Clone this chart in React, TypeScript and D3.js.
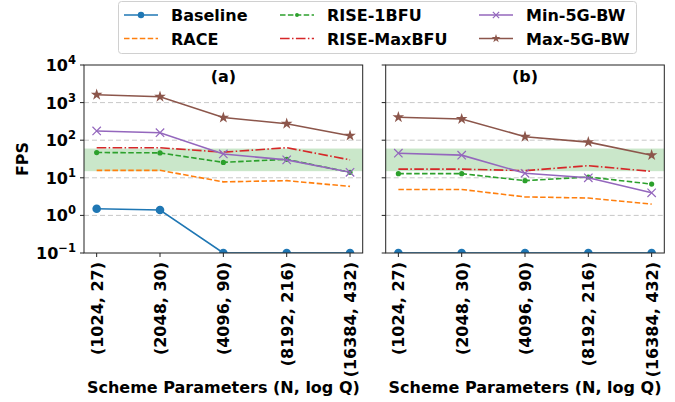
import React, { useEffect, useRef } from "react";
import * as d3 from "d3";

const params = ["(1024, 27)", "(2048, 30)", "(4096, 90)", "(8192, 216)", "(16384, 432)"];
const seriesNames = ["Baseline", "RACE", "RISE-1BFU", "RISE-MaxBFU", "Min-5G-BW", "Max-5G-BW"];
const yTickExps = [-1, 0, 1, 2, 3, 4];
const fpsBand = [15, 60];

// panel (a)
const baselineA = [1.5, 1.39, 0.1, 0.1, 0.1];
const raceA = [15.8, 15.8, 7.8, 8.4, 5.9];
const rise1A = [47, 46, 25.7, 31, 14];
const riseMaxA = [63, 63, 48, 63, 30];
const min5gA = [176, 158, 43, 30, 14];
const max5gA = [1620, 1435, 400, 275, 132];

// panel (b)
const baselineB = [0.1, 0.1, 0.1, 0.1, 0.1];
const raceB = [4.9, 4.9, 3.1, 2.9, 2.0];
const rise1B = [12.9, 12.9, 8.4, 10.5, 6.8];
const riseMaxB = [17, 17, 15.5, 21, 14.8];
const min5gB = [45, 40, 13.2, 10, 4];
const max5gB = [408, 366, 124, 89, 40];

const styles = [
  { color: "#1f77b4", dash: null, marker: "circle" },
  { color: "#ff7f0e", dash: "5.5,2.4", marker: null },
  { color: "#2ca02c", dash: "5.5,2.4", marker: "dot" },
  { color: "#d62728", dash: "9.6,2.4,1.5,2.4", marker: null },
  { color: "#9467bd", dash: null, marker: "x" },
  { color: "#8c564b", dash: null, marker: "star" },
];

const FONT = "DejaVu Sans";

function drawMarker(g: any, kind: string | null, x: number, y: number, color: string, scale: number) {
  if (!kind) return;
  if (kind === "circle") {
    g.append("circle").attr("cx", x).attr("cy", y).attr("r", 4.3 * scale).attr("fill", color);
  } else if (kind === "dot") {
    g.append("circle").attr("cx", x).attr("cy", y).attr("r", 2.6 * scale).attr("fill", color);
  } else if (kind === "x") {
    const s = 4.2 * scale;
    g.append("path")
      .attr("d", `M${x - s},${y - s}L${x + s},${y + s}M${x - s},${y + s}L${x + s},${y - s}`)
      .attr("stroke", color)
      .attr("stroke-width", 1.2);
  } else if (kind === "star") {
    g.append("path")
      .attr("d", d3.symbol().type(d3.symbolStar).size(42 * scale * scale)())
      .attr("transform", `translate(${x},${y})`)
      .attr("fill", color);
  }
}

export default function App() {
  const ref = useRef<SVGSVGElement>(null);

  useEffect(() => {
    const svg = d3.select(ref.current);
    svg.selectAll("*").remove();

    const top = 65,
      bottom = 253;
    const y = d3.scaleLog().domain([0.1, 1e4]).range([bottom, top]);

    const panels = [
      { id: "a", left: 84, right: 362.7, data: [baselineA, raceA, rise1A, riseMaxA, min5gA, max5gA], labels: true },
      { id: "b", left: 385.7, right: 664.3, data: [baselineB, raceB, rise1B, riseMaxB, min5gB, max5gB], labels: false },
    ];

    panels.forEach((p) => {
      const x = d3.scaleLinear().domain([-0.2, 4.2]).range([p.left, p.right]);
      const g = svg.append("g");

      g.append("clipPath")
        .attr("id", "clip-" + p.id)
        .append("rect")
        .attr("x", p.left)
        .attr("y", top)
        .attr("width", p.right - p.left)
        .attr("height", bottom - top);

      // grid
      yTickExps.slice(1, -1).forEach((e) => {
        g.append("line")
          .attr("x1", p.left)
          .attr("x2", p.right)
          .attr("y1", y(Math.pow(10, e)))
          .attr("y2", y(Math.pow(10, e)))
          .attr("stroke", "#c8c8c8")
          .attr("stroke-width", 1)
          .attr("stroke-dasharray", "5,3");
      });

      // fps band
      g.append("rect")
        .attr("x", p.left)
        .attr("width", p.right - p.left)
        .attr("y", y(fpsBand[1]))
        .attr("height", y(fpsBand[0]) - y(fpsBand[1]))
        .attr("fill", "#2ca02c")
        .attr("opacity", 0.25);

      const plot = g.append("g").attr("clip-path", `url(#clip-${p.id})`);
      const line = d3
        .line<number>()
        .x((d, i) => x(i))
        .y((d) => y(d));

      p.data.forEach((vals, si) => {
        const st = styles[si];
        plot.append("path")
          .datum(vals)
          .attr("d", line)
          .attr("fill", "none")
          .attr("stroke", st.color)
          .attr("stroke-width", 1.6)
          .attr("stroke-dasharray", st.dash);
        vals.forEach((v, i) => drawMarker(plot, st.marker, x(i), y(v), st.color, 1));
      });

      // frame
      g.append("rect")
        .attr("x", p.left)
        .attr("y", top)
        .attr("width", p.right - p.left)
        .attr("height", bottom - top)
        .attr("fill", "none")
        .attr("stroke", "#222")
        .attr("stroke-width", 1);

      // y ticks
      yTickExps.forEach((e) => {
        const yy = y(Math.pow(10, e));
        g.append("line").attr("x1", p.left - 4).attr("x2", p.left).attr("y1", yy).attr("y2", yy).attr("stroke", "#222");
        if (p.labels) {
          const t = g.append("text")
            .attr("x", p.left - 8)
            .attr("y", yy + 6)
            .attr("text-anchor", "end")
            .attr("font-family", FONT)
            .attr("font-weight", "bold")
            .attr("font-size", 16);
          t.append("tspan").text("10");
          t.append("tspan").attr("dy", -7).attr("font-size", 11.5).text(e < 0 ? "\u2212" + Math.abs(e) : String(e));
        }
      });

      // x ticks
      params.forEach((lab, i) => {
        const xx = x(i);
        g.append("line").attr("x1", xx).attr("x2", xx).attr("y1", bottom).attr("y2", bottom + 4).attr("stroke", "#222");
        g.append("text")
          .attr("transform", `translate(${xx + 6},${bottom + 9}) rotate(-90)`)
          .attr("text-anchor", "end")
          .attr("font-family", FONT)
          .attr("font-weight", "bold")
          .attr("font-size", 16)
          .text(lab);
      });

      // title
      g.append("text")
        .attr("x", (p.left + p.right) / 2)
        .attr("y", 82)
        .attr("text-anchor", "middle")
        .attr("font-family", FONT)
        .attr("font-weight", "bold")
        .attr("font-size", 16)
        .text(`(${p.id})`);

      // x label
      g.append("text")
        .attr("x", (p.left + p.right) / 2)
        .attr("y", 393)
        .attr("text-anchor", "middle")
        .attr("font-family", FONT)
        .attr("font-weight", "bold")
        .attr("font-size", 16)
        .text("Scheme Parameters (N, log Q)");
    });

    // y label
    svg.append("text")
      .attr("transform", `translate(28,${(top + bottom) / 2}) rotate(-90)`)
      .attr("text-anchor", "middle")
      .attr("font-family", FONT)
      .attr("font-weight", "bold")
      .attr("font-size", 16)
      .text("FPS");

    // legend
    const lg = svg.append("g");
    lg.append("rect")
      .attr("x", 118.5)
      .attr("y", 1.5)
      .attr("width", 518)
      .attr("height", 52)
      .attr("rx", 3)
      .attr("fill", "white")
      .attr("stroke", "#d0d0d0");
    const colX = [124, 280, 479];
    const rowY = [15, 38.5];
    seriesNames.forEach((name, i) => {
      const col = Math.floor(i / 2),
        row = i % 2;
      const st = styles[i];
      const x0 = colX[col],
        yy = rowY[row];
      lg.append("line")
        .attr("x1", x0)
        .attr("x2", x0 + 34)
        .attr("y1", yy)
        .attr("y2", yy)
        .attr("stroke", st.color)
        .attr("stroke-width", 1.6)
        .attr("stroke-dasharray", st.dash);
      drawMarker(lg, st.marker, x0 + 17, yy, st.color, 0.75);
      lg.append("text")
        .attr("x", x0 + 47)
        .attr("y", yy + 6)
        .attr("font-family", FONT)
        .attr("font-weight", "bold")
        .attr("font-size", 16)
        .text(name);
    });
  }, []);

  return (
    <svg
      ref={ref}
      width={675}
      height={402}
      style={{ position: "absolute", left: 0, top: 0, background: "white" }}
    />
  );
}
